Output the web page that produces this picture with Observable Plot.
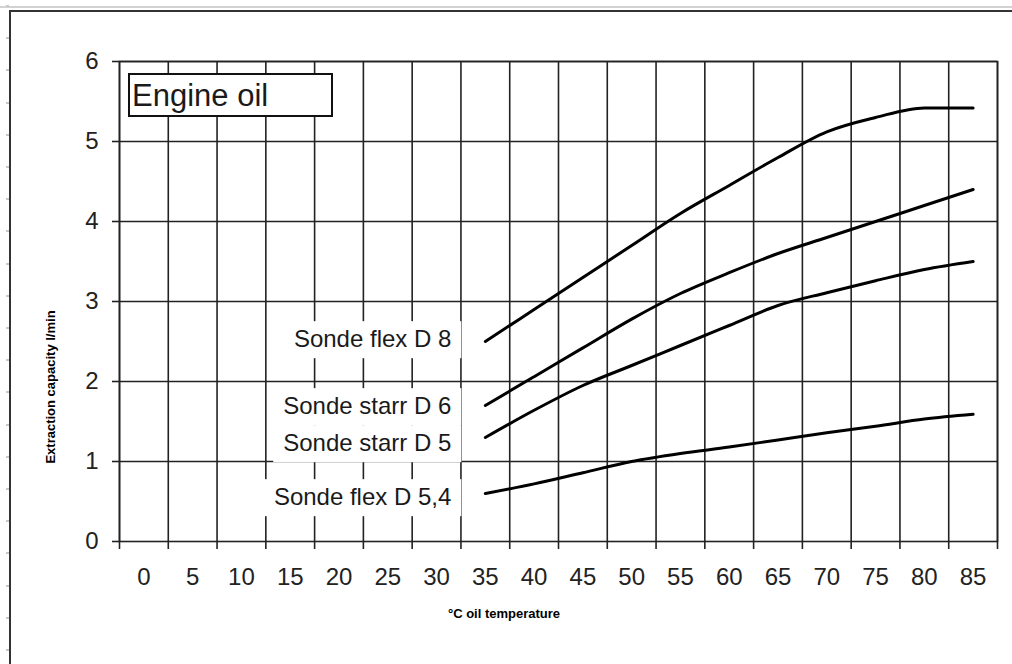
<!DOCTYPE html>
<html>
<head>
<meta charset="utf-8">
<script src="https://cdn.jsdelivr.net/npm/d3@7"></script>
<script src="https://cdn.jsdelivr.net/npm/@observablehq/plot@0.6"></script>
<style>
  html, body { margin: 0; padding: 0; background: #fff; }
  #wrap { position: relative; width: 1012px; height: 664px; overflow: hidden; background: #fff;
          font-family: "Liberation Sans", Arial, sans-serif; }
  #sheetTop { position: absolute; left: 0; top: 6px; width: 1012px; height: 2px; background: #d2d2d2; }
  #sheetLeft { position: absolute; left: 6px; top: 5px; width: 3px; height: 660px;
               background: repeating-linear-gradient(to bottom, #c8c8c8 0px, #c8c8c8 2px, transparent 2px, transparent 32.2px); }
  #chartBorder { position: absolute; left: 9px; top: 10px; width: 1100px; height: 800px;
                 border-left: 2px solid #333; border-top: 2px solid #333; box-sizing: border-box; }
  #chart { position: absolute; left: 0; top: 0; }
  #titleBox { position: absolute; left: 128px; top: 73px; width: 205px; height: 44px; box-sizing: border-box;
              border: 2px solid #111; background: #fff; font-size: 31px; line-height: 38px;
              padding-top: 2px; padding-left: 2px; color: #1a1a1a; white-space: nowrap; }
  #ytitle { position: absolute; left: 50px; top: 387px; transform: translate(-50%, -50%) rotate(-90deg);
            font-weight: bold; font-size: 13px; white-space: nowrap; color: #000; }
  #xtitle { position: absolute; left: 504px; top: 613px; transform: translate(-50%, -50%);
            font-weight: bold; font-size: 13px; white-space: nowrap; color: #000; }
</style>
</head>
<body>
<div id="wrap">
  <div id="sheetTop"></div>
  <div id="sheetLeft"></div>
  <div id="chartBorder"></div>
  <div id="chart"></div>
  <div id="titleBox">Engine oil</div>
  <div id="ytitle">Extraction capacity l/min</div>
  <div id="xtitle">°C oil temperature</div>
</div>
<script>
// ---- data ----
const categories = [0, 5, 10, 15, 20, 25, 30, 35, 40, 45, 50, 55, 60, 65, 70, 75, 80, 85];
const temps = [35, 40, 45, 50, 55, 60, 65, 70, 75, 80, 85];
const seriesNames = ["Sonde flex D 8", "Sonde starr D 6", "Sonde starr D 5", "Sonde flex D 5,4"];
const flexD8  = [2.5, 2.9, 3.3, 3.7, 4.1, 4.45, 4.8, 5.12, 5.3, 5.42, 5.42];
const starrD6 = [1.7, 2.06, 2.42, 2.78, 3.1, 3.36, 3.6, 3.8, 4.0, 4.2, 4.4];
const starrD5 = [1.3, 1.64, 1.95, 2.2, 2.45, 2.7, 2.95, 3.11, 3.26, 3.4, 3.5];
const flexD54 = [0.6, 0.72, 0.86, 1.0, 1.1, 1.18, 1.27, 1.36, 1.44, 1.53, 1.59];
const yTicks = [0, 1, 2, 3, 4, 5, 6];

// ---- styling (not data) ----
const labelDy = [-2, 1, 6, 4];
const font = "Liberation Sans, Arial, sans-serif";

const seriesValues = [flexD8, starrD6, starrD5, flexD54];
const rows = seriesNames.flatMap((name, i) => temps.map((t, j) => ({series: name, t, v: seriesValues[i][j]})));
const starts = seriesNames.map((name, i) => ({series: name, t: temps[0], v: seriesValues[i][0]}));
const half = (categories[1] - categories[0]) / 2;
const boundaries = [categories[0] - half, ...categories.map(c => c + half)];

const chart = Plot.plot({
  width: 1012,
  height: 664,
  marginLeft: 119,
  marginRight: 15,
  marginTop: 61,
  marginBottom: 123,
  style: {fontFamily: font, background: "transparent", color: "#1a1a1a", overflow: "visible"},
  x: {domain: [boundaries[0], boundaries[boundaries.length - 1]]},
  y: {domain: [0, 6]},
  marks: [
    Plot.ruleX(boundaries, {stroke: "#222", strokeWidth: 1.6}),
    Plot.ruleY(yTicks.filter(d => d > 0), {stroke: "#222", strokeWidth: 1.6}),
    Plot.frame({stroke: "#222", strokeWidth: 1.6}),
    Plot.axisX(boundaries, {tickSize: 8, tickFormat: () => "", label: null, stroke: "#222", strokeWidth: 1.6}),
    Plot.axisX(categories, {tickSize: 0, tickPadding: 26, fontSize: 24, label: null, fill: "#222", tickFormat: d => String(d)}),
    Plot.axisY(yTicks, {tickSize: 7, tickPadding: 14, fontSize: 24, label: null, stroke: "#222", strokeWidth: 1.6, fill: "#222", tickFormat: d => String(d)}),
    Plot.line(rows, {x: "t", y: "v", z: "series", stroke: "#000", strokeWidth: 3, curve: "monotone-x"}),
    ...starts.map((s, i) => Plot.text([s], {
      x: "t", y: "v", text: "series", textAnchor: "end", dx: -34, dy: labelDy[i],
      fontSize: 24, fill: "#1a1a1a", fontFamily: font
    }))
  ]
});

document.getElementById("chart").append(chart);

// white label boxes behind the data labels (sized from the rendered text)
const ns = "http://www.w3.org/2000/svg";
const svgBox = chart.getBoundingClientRect();
chart.querySelectorAll('g[aria-label="text"]').forEach(g => {
  const bg = document.createElementNS(ns, "g");
  g.querySelectorAll("text").forEach(t => {
    const r = t.getBoundingClientRect();
    const rect = document.createElementNS(ns, "rect");
    rect.setAttribute("x", r.left - svgBox.left - 10);
    rect.setAttribute("y", r.top - svgBox.top - 4);
    rect.setAttribute("width", r.width + 20);
    rect.setAttribute("height", r.height + 10);
    rect.setAttribute("fill", "#fff");
    bg.append(rect);
  });
  g.parentNode.insertBefore(bg, g);
});
</script>
</body>
</html>
